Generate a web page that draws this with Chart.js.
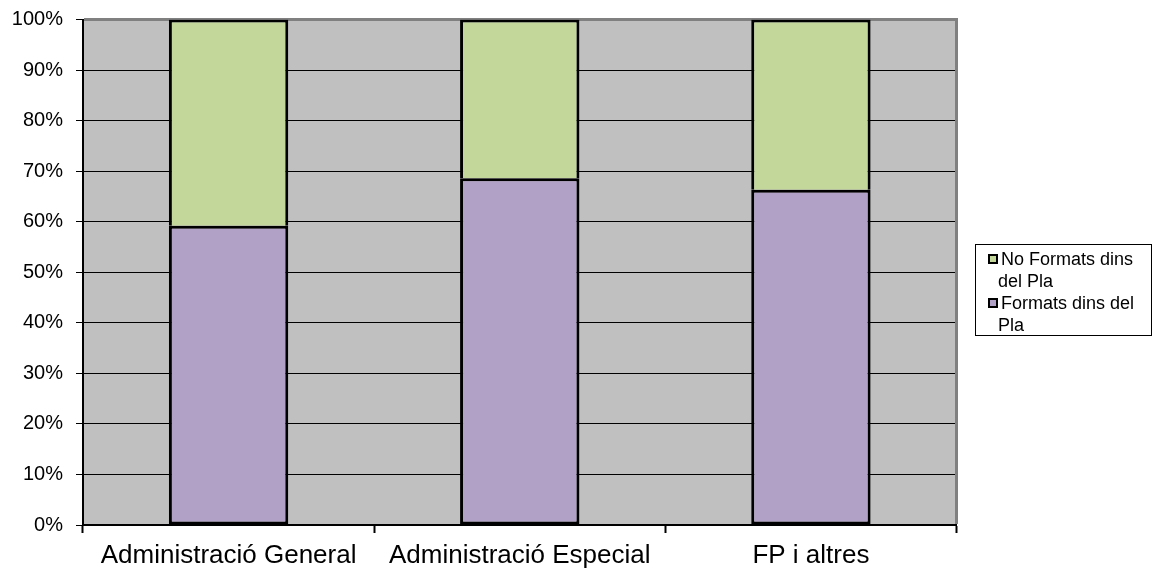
<!DOCTYPE html>
<html>
<head>
<meta charset="utf-8">
<script src="https://cdn.jsdelivr.net/npm/chart.js@4"></script>
<style>
  html, body { margin: 0; padding: 0; background: #ffffff; }
  #wrap { width: 1161px; height: 572px; }
</style>
</head>
<body>
<div id="wrap"><canvas id="chart" width="1161" height="572"></canvas></div>
<script>
// categories and values (percent)
const categories = ['Administració General', 'Administració Especial', 'FP i altres'];
const formats = [59.2, 68.6, 66.3];
const noFormats = [40.8, 31.4, 33.7];
const seriesLabels = [['Formats dins del', 'Pla'], ['No Formats dins', 'del Pla']];
const yTicks = [0, 10, 20, 30, 40, 50, 60, 70, 80, 90, 100];

Chart.defaults.font.family = "'Liberation Sans', Arial, sans-serif";
Chart.defaults.color = '#000000';

// grey plot area
const plotBackground = {
    id: 'plotBackground',
    beforeDraw(chart) {
        const a = chart.chartArea;
        const ctx = chart.ctx;
        ctx.save();
        ctx.fillStyle = '#c0c0c0';
        ctx.fillRect(a.left, a.top, a.right - a.left, a.bottom - a.top);
        ctx.restore();
    },
    beforeDatasetsDraw(chart) {
        // grey top and right frame
        const a = chart.chartArea;
        const ctx = chart.ctx;
        ctx.save();
        ctx.strokeStyle = '#808080';
        ctx.lineWidth = 3;
        ctx.beginPath();
        ctx.moveTo(a.left + 1, a.top);
        ctx.lineTo(a.right, a.top);
        ctx.lineTo(a.right, a.bottom - 1);
        ctx.stroke();
        ctx.restore();
    }
};

// boxed legend with wrapped labels, like the original
const boxLegend = {
    id: 'boxLegend',
    afterDraw(chart) {
        const ctx = chart.ctx;
        const x = 975, y = 244, w = 176, h = 91;
        ctx.save();
        ctx.fillStyle = '#ffffff';
        ctx.fillRect(x, y, w, h);
        ctx.strokeStyle = '#000000';
        ctx.lineWidth = 1;
        ctx.strokeRect(x + 0.5, y + 0.5, w, h);
        ctx.font = "18px 'Liberation Sans', Arial, sans-serif";
        ctx.textBaseline = 'alphabetic';
        let base = 265;
        [1, 0].forEach(i => {
            const ds = chart.data.datasets[i];
            // marker
            ctx.fillStyle = '#000000';
            ctx.fillRect(988, base - 11, 10, 10);
            ctx.fillStyle = ds.backgroundColor;
            ctx.fillRect(990, base - 9, 6, 6);
            ctx.fillStyle = '#000000';
            seriesLabels[i].forEach((t, k) => {
                ctx.fillText(t, k === 0 ? 1001 : 998, base);
                base += 22;
            });
        });
        ctx.restore();
    }
};

new Chart(document.getElementById('chart'), {
    type: 'bar',
    data: {
        labels: categories,
        datasets: [
            {
                label: seriesLabels[0].join(' '),
                data: formats,
                backgroundColor: '#b2a1c7',
                borderColor: '#000000',
                borderWidth: 3,
                borderSkipped: false
            },
            {
                label: seriesLabels[1].join(' '),
                data: noFormats,
                backgroundColor: '#c4d79b',
                borderColor: '#000000',
                borderWidth: { top: 3, left: 3, right: 3, bottom: 0 },
                borderSkipped: false
            }
        ]
    },
    options: {
        responsive: false,
        animation: false,
        layout: { padding: { top: 19.5, right: 204.5, left: 0, bottom: 0 } },
        datasets: { bar: { categoryPercentage: 1, barPercentage: 0.41 } },
        plugins: {
            legend: { display: false },
            tooltip: { enabled: false }
        },
        scales: {
            x: {
                stacked: true,
                offset: true,
                afterFit(scale) { scale.height = 47; },
                grid: {
                    offset: true,
                    drawOnChartArea: false,
                    tickLength: 8,
                    tickWidth: 2,
                    tickColor: '#000000'
                },
                border: { color: '#000000', width: 2 },
                ticks: {
                    font: { size: 26 },
                    color: '#000000',
                    padding: 7,
                    maxRotation: 0,
                    autoSkip: false
                }
            },
            y: {
                stacked: true,
                min: 0,
                max: 100,
                afterFit(scale) {
                    scale.width = 83;
                    scale.paddingTop = 0;
                    scale.paddingBottom = 0;
                },
                afterBuildTicks(scale) { scale.ticks = yTicks.map(v => ({ value: v })); },
                grid: {
                    color: '#000000',
                    lineWidth: 1,
                    tickLength: 7,
                    tickColor: '#000000',
                    tickWidth: 1
                },
                border: { color: '#000000', width: 2 },
                ticks: {
                    font: { size: 20 },
                    color: '#000000',
                    padding: 13,
                    callback: v => v + '%'
                }
            }
        }
    },
    plugins: [plotBackground, boxLegend]
});
</script>
</body>
</html>
